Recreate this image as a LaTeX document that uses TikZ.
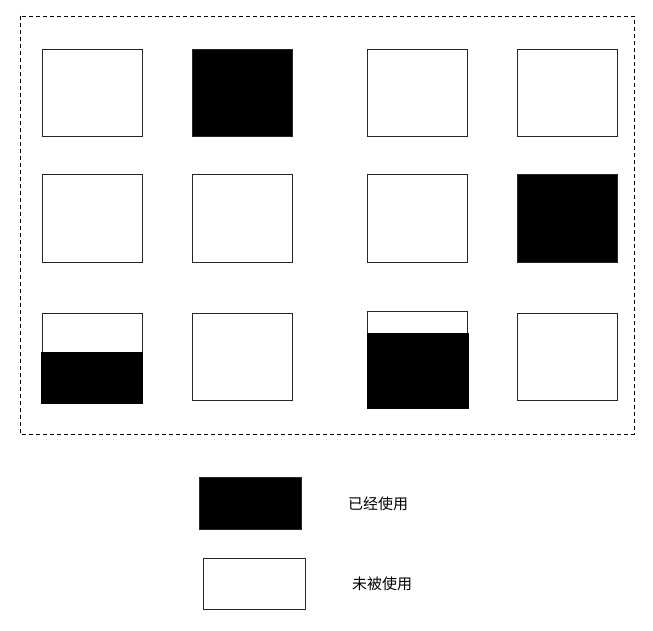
\documentclass[tikz,border=0pt]{standalone}
\usepackage{fontspec}
\newfontfamily\cjk{Noto Sans CJK SC}
\usetikzlibrary{positioning}

\tikzset{
  cell/.style={draw=black!85,line width=1pt,minimum width=100pt,minimum height=87pt,inner sep=0pt},
  used/.style={cell,fill=black},
  free/.style={cell,fill=white},
  label/.style={font=\cjk\fontsize{15}{17}\selectfont,inner sep=0pt}
}

\begin{document}
\begin{tikzpicture}[x=1pt,y=-1pt]
  \useasboundingbox (0,0) rectangle (653,631);

  % Memory region
  \draw[dashed,line width=0.8pt,dash pattern=on 4pt off 3pt] (20,16) rectangle (634,434);

  % First row
  \node[free] (a1) at (92,93.5) {};
  \node[used] (a2) at (242,93.5) {};
  \node[free] (a3) at (417,93.5) {};
  \node[free] (a4) at (567,93.5) {};

  % Second row
  \node[free] (b1) at (92,218.5) {};
  \node[free] (b2) at (242,218.5) {};
  \node[free] (b3) at (417,218.5) {};
  \node[used] (b4) at (567,218.5) {};

  % Third row (two blocks partly used)
  \node[free] (c1) at (92,356.5) {};
  \fill (41,352) rectangle (143,404);
  \node[free] (c2) at (242,356.5) {};
  \node[free] (c3) at (417,354.5) {};
  \fill (367,333) rectangle (469,409);
  \node[free] (c4) at (567,356.5) {};

  % Legend
  \node[used,minimum width=102pt,minimum height=52pt] (keyused) at (250.5,503) {};
  \node[free,minimum width=102pt,minimum height=51pt] (keyfree) at (254,583.5) {};
  \node[label] (txtused) at (378,504) {已经使用};
  \node[label] (txtfree) at (382,584) {未被使用};
\end{tikzpicture}
\end{document}
